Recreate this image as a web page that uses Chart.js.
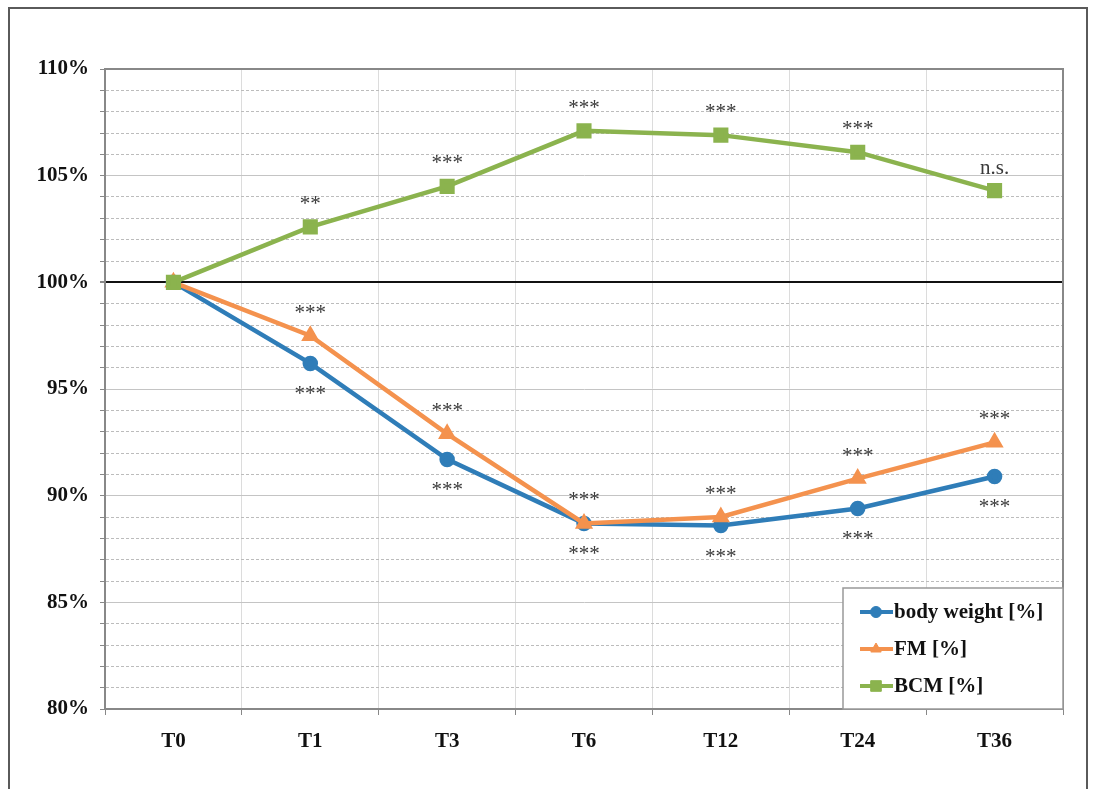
<!DOCTYPE html>
<html lang="en">
<head>
    <meta charset="UTF-8">
    <title>Body composition over time</title>
    <script src="https://cdn.jsdelivr.net/npm/chart.js"></script>
    <style>
        body {
            margin: 0;
            background-color: #fff;
        }
        #frame {
            position: absolute;
            left: 8px;
            top: 7px;
            width: 1076px;
            height: 790px;
            border: 2px solid #5a5a5a;
            border-bottom: none;
            pointer-events: none;
        }
        #chart {
            position: absolute;
            left: 0;
            top: 0;
        }
    </style>
</head>
<body>
    <canvas id="chart" width="1095" height="789"></canvas>
    <div id="frame"></div>

    <script>
        const timepoints = ['T0', 'T1', 'T3', 'T6', 'T12', 'T24', 'T36'];
        const bodyWeight = [100, 96.2, 91.7, 88.7, 88.6, 89.4, 90.9];
        const fatMass = [100, 97.5, 92.9, 88.7, 89.0, 90.8, 92.5];
        const bodyCellMass = [100, 102.6, 104.5, 107.1, 106.9, 106.1, 104.3];

        // significance vs. T0
        const bodyWeightSig = ['', '***', '***', '***', '***', '***', '***'];
        const fatMassSig = ['', '***', '***', '***', '***', '***', '***'];
        const bodyCellMassSig = ['', '**', '***', '***', '***', '***', 'n.s.'];

        const serif = '"Liberation Serif", "Times New Roman", serif';

        // stars over / under each point, offset to text baseline in px
        const sigLabels = {
            id: 'sigLabels',
            afterDatasetsDraw(chart) {
                const ctx = chart.ctx;
                const sets = [
                    { meta: chart.getDatasetMeta(0), text: bodyWeightSig, dy: 37 },
                    { meta: chart.getDatasetMeta(1), text: fatMassSig, dy: -17 },
                    { meta: chart.getDatasetMeta(2), text: bodyCellMassSig, dy: -17 }
                ];
                ctx.save();
                ctx.font = '21px ' + serif;
                ctx.fillStyle = '#3a3a3a';
                ctx.textAlign = 'center';
                ctx.textBaseline = 'alphabetic';
                sets.forEach(s => {
                    s.meta.data.forEach((pt, i) => {
                        if (s.text[i]) ctx.fillText(s.text[i], pt.x, pt.y + s.dy);
                    });
                });
                ctx.restore();
            }
        };

        // plot frame (top + right) and the legend box in the lower right corner
        const frameAndLegend = {
            id: 'frameAndLegend',
            beforeDatasetsDraw(chart) {
                const { ctx, chartArea: a } = chart;
                ctx.save();
                ctx.strokeStyle = '#888';
                ctx.lineWidth = 2;
                ctx.beginPath();
                ctx.moveTo(a.left, a.top);
                ctx.lineTo(a.right, a.top);
                ctx.lineTo(a.right, a.bottom);
                ctx.stroke();
                ctx.restore();
            },
            afterDraw(chart) {
                const { ctx, chartArea: a } = chart;
                const w = 220, h = 121;
                const x0 = a.right - w, y0 = a.bottom - h;
                ctx.save();
                ctx.fillStyle = '#fff';
                ctx.fillRect(x0, y0, w, h);
                ctx.strokeStyle = '#999';
                ctx.lineWidth = 1.5;
                ctx.strokeRect(x0, y0, w, h);
                ctx.font = 'bold 21px ' + serif;
                ctx.textBaseline = 'middle';
                ctx.textAlign = 'left';
                chart.data.datasets.forEach((ds, i) => {
                    const y = y0 + 24 + i * 37;
                    ctx.strokeStyle = ds.borderColor;
                    ctx.lineWidth = 4;
                    ctx.beginPath();
                    ctx.moveTo(x0 + 17, y);
                    ctx.lineTo(x0 + 50, y);
                    ctx.stroke();
                    ctx.fillStyle = ds.borderColor;
                    ctx.strokeStyle = ds.borderColor;
                    ctx.lineWidth = 1;
                    Chart.helpers.drawPoint(ctx, { pointStyle: ds.pointStyle, radius: ds.pointRadius, rotation: 0, borderWidth: 1 }, x0 + 33, y);
                    ctx.fillStyle = '#111';
                    ctx.fillText(ds.label, x0 + 51, y + 1);
                });
                ctx.restore();
            }
        };

        new Chart(document.getElementById('chart'), {
            type: 'line',
            data: {
                labels: timepoints,
                datasets: [
                    {
                        label: 'body weight [%]',
                        data: bodyWeight,
                        borderColor: '#2F7DB8',
                        backgroundColor: '#2F7DB8',
                        borderWidth: 4.5,
                        pointStyle: 'circle',
                        pointRadius: 5.5,
                        order: 3
                    },
                    {
                        label: 'FM [%]',
                        data: fatMass,
                        borderColor: '#F4924E',
                        backgroundColor: '#F4924E',
                        borderWidth: 4.5,
                        pointStyle: 'triangle',
                        pointRadius: 6,
                        order: 2
                    },
                    {
                        label: 'BCM [%]',
                        data: bodyCellMass,
                        borderColor: '#8BB34E',
                        backgroundColor: '#8BB34E',
                        borderWidth: 4.5,
                        pointStyle: 'rect',
                        pointRadius: 7.5,
                        order: 1
                    }
                ]
            },
            options: {
                responsive: false,
                animation: false,
                layout: {
                    padding: { left: 0, top: 69, right: 32, bottom: 0 }
                },
                plugins: {
                    legend: { display: false },
                    tooltip: { enabled: false }
                },
                elements: {
                    line: { tension: 0 },
                    point: { borderWidth: 1 }
                },
                scales: {
                    x: {
                        offset: true,
                        afterFit(scale) { scale.height = 80; },
                        grid: {
                            offset: true,
                            color: '#dcdcdc',
                            lineWidth: 1,
                            tickLength: 6,
                            tickColor: '#888'
                        },
                        border: { color: '#888', width: 2 },
                        ticks: {
                            color: '#111',
                            padding: 14,
                            font: { family: serif, size: 21, weight: 'bold' }
                        }
                    },
                    y: {
                        min: 80,
                        max: 110,
                        afterFit(scale) { scale.width = 105; },
                        grid: {
                            color: ctx => {
                                const v = ctx.tick ? ctx.tick.value : 0;
                                if (v === 100) return '#111';
                                return v % 5 === 0 ? '#c4c4c4' : '#bcbcbc';
                            },
                            lineWidth: ctx => (ctx.tick && ctx.tick.value === 100 ? 2 : 1),
                            tickLength: 5,
                            tickColor: '#888',
                            tickBorderDash: []
                        },
                        border: {
                            color: '#888',
                            width: 2,
                            dash: ctx => (ctx.tick && ctx.tick.value % 5 !== 0 ? [3, 2] : [])
                        },
                        ticks: {
                            stepSize: 1,
                            autoSkip: false,
                            padding: 11,
                            color: '#111',
                            font: { family: serif, size: 21, weight: 'bold' },
                            callback: v => (v % 5 === 0 ? v + '%' : '')
                        }
                    }
                }
            },
            plugins: [sigLabels, frameAndLegend]
        });
    </script>
</body>
</html>
